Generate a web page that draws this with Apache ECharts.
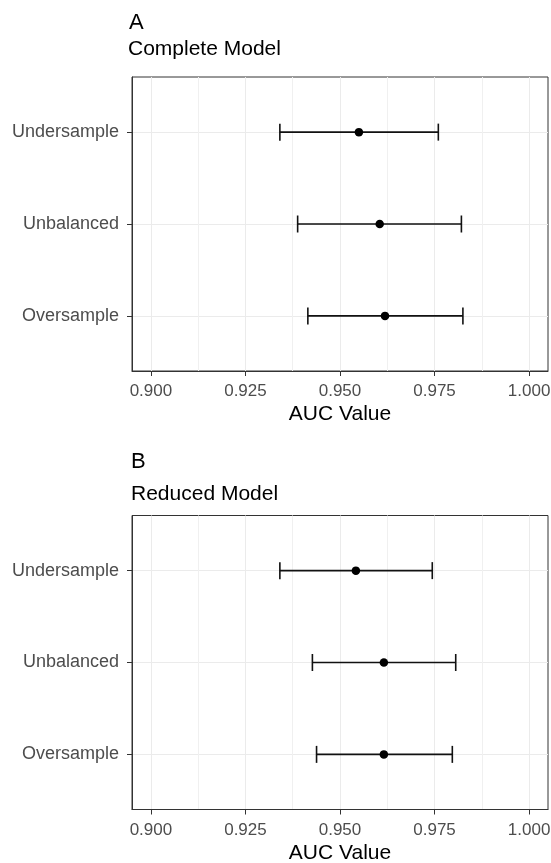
<!DOCTYPE html>
<html>
<head>
<meta charset="utf-8">
<script src="https://cdn.jsdelivr.net/npm/echarts@6/dist/echarts.min.js"></script>
<style>
html,body{margin:0;padding:0;background:#fff;}
#chart{width:551px;height:863px;}
</style>
</head>
<body>
<div id="chart"></div>
<script>
// Categories from bottom (y=1) to top (y=3)
var categories = ['Oversample', 'Unbalanced', 'Undersample'];
var xTicks = [0.900, 0.925, 0.950, 0.975, 1.000];
var xMinorTicks = [0.9125, 0.9375, 0.9625, 0.9875];

// Panel A: Complete Model
var completeMean = [0.9619, 0.9605, 0.9550];
var completeLow  = [0.9415, 0.9388, 0.9341];
var completeHigh = [0.9825, 0.9821, 0.9760];

// Panel B: Reduced Model
var reducedMean = [0.9616, 0.9616, 0.9542];
var reducedLow  = [0.9438, 0.9427, 0.9341];
var reducedHigh = [0.9797, 0.9806, 0.9744];

var FONT = 'Liberation Sans, Arial, sans-serif';
var chart = echarts.init(document.getElementById('chart'), null, {renderer: 'canvas'});

function barData(low, high) {
  return categories.map(function (c, i) { return [low[i], high[i], i + 1]; });
}
function pointData(mean) {
  return categories.map(function (c, i) { return [mean[i], i + 1]; });
}

function renderErrorBar(params, api) {
  var y = api.value(2);
  var p1 = api.coord([api.value(0), y]);
  var p2 = api.coord([api.value(1), y]);
  var h = 8.5;
  var style = {stroke: '#111', lineWidth: 1.6};
  return {
    type: 'group',
    children: [
      {type: 'line', shape: {x1: p1[0], y1: p1[1], x2: p2[0], y2: p2[1]}, style: style},
      {type: 'line', shape: {x1: p1[0], y1: p1[1] - h, x2: p1[0], y2: p1[1] + h}, style: style},
      {type: 'line', shape: {x1: p2[0], y1: p2[1] - h, x2: p2[0], y2: p2[1] + h}, style: style}
    ]
  };
}

function mainX(gridIndex) {
  return {
    type: 'value', gridIndex: gridIndex, min: 0.895, max: 1.005, position: 'bottom',
    name: 'AUC Value', nameLocation: 'middle', nameGap: 33,
    nameTextStyle: {fontSize: 21, color: '#000', fontFamily: FONT},
    axisLine: {show: true, onZero: false, lineStyle: {color: '#333', width: 1}},
    axisTick: {show: true, length: 5, customValues: xTicks, lineStyle: {color: '#333', width: 1}},
    axisLabel: {show: true, customValues: xTicks, margin: 12, fontSize: 17, color: '#4D4D4D', fontFamily: FONT,
      formatter: function (v) { return v.toFixed(3); }},
    splitLine: {show: true, lineStyle: {color: '#EBEBEB', width: 1}}
  };
}
function minorX(gridIndex) {
  return {
    type: 'value', gridIndex: gridIndex, min: 0.895, max: 1.005, position: 'top',
    axisLine: {show: false},
    axisTick: {show: false, customValues: xMinorTicks},
    axisLabel: {show: false, customValues: xMinorTicks},
    splitLine: {show: true, lineStyle: {color: '#F0F0F0', width: 1}}
  };
}
function mainY(gridIndex) {
  return {
    type: 'value', gridIndex: gridIndex, min: 0.4, max: 3.6,
    axisLine: {show: true, onZero: false, lineStyle: {color: '#333', width: 1}},
    axisTick: {show: true, length: 5, customValues: [1, 2, 3], lineStyle: {color: '#333', width: 1}},
    axisLabel: {show: true, customValues: [1, 2, 3], margin: 13, fontSize: 18, color: '#4D4D4D', fontFamily: FONT,
      formatter: function (v) { return categories[Math.round(v) - 1]; }},
    splitLine: {show: true, lineStyle: {color: '#EBEBEB', width: 1}}
  };
}

var titleStyle = function (size) { return {fontSize: size, fontWeight: 'normal', color: '#000', fontFamily: FONT}; };

var option = {
  backgroundColor: '#fff',
  animation: false,
  title: [
    {text: 'A', left: 129, top: 12, padding: 0, textStyle: titleStyle(22)},
    {text: 'Complete Model', left: 128, top: 39, padding: 0, textStyle: titleStyle(21)},
    {text: 'B', left: 131, top: 451, padding: 0, textStyle: titleStyle(22)},
    {text: 'Reduced Model', left: 131, top: 484, padding: 0, textStyle: titleStyle(21)}
  ],
  grid: [
    {left: 132, right: 3, top: 77, height: 294, show: true, borderColor: '#333', borderWidth: 1,
      backgroundColor: 'transparent', containLabel: false, outerBoundsMode: 'none'},
    {left: 132, right: 3, top: 515.5, height: 294, show: true, borderColor: '#333', borderWidth: 1,
      backgroundColor: 'transparent', containLabel: false, outerBoundsMode: 'none'}
  ],
  xAxis: [mainX(0), minorX(0), mainX(1), minorX(1)],
  yAxis: [mainY(0), mainY(1)],
  series: [
    {type: 'custom', xAxisIndex: 0, yAxisIndex: 0, renderItem: renderErrorBar, data: barData(completeLow, completeHigh), z: 3},
    {type: 'scatter', xAxisIndex: 0, yAxisIndex: 0, data: pointData(completeMean), symbol: 'circle', symbolSize: 8.5,
      itemStyle: {color: '#000', opacity: 1}, z: 4},
    {type: 'custom', xAxisIndex: 2, yAxisIndex: 1, renderItem: renderErrorBar, data: barData(reducedLow, reducedHigh), z: 3},
    {type: 'scatter', xAxisIndex: 2, yAxisIndex: 1, data: pointData(reducedMean), symbol: 'circle', symbolSize: 8.5,
      itemStyle: {color: '#000', opacity: 1}, z: 4}
  ]
};
chart.setOption(option);
</script>
</body>
</html>
